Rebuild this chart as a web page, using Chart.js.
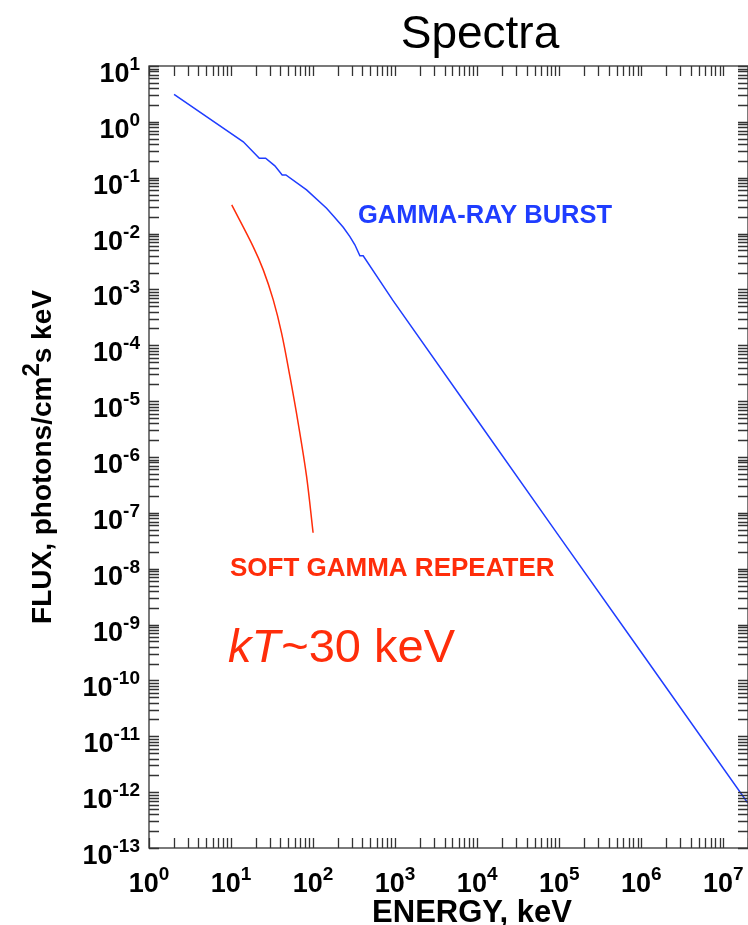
<!DOCTYPE html>
<html>
<head>
<meta charset="utf-8">
<script src="https://cdn.jsdelivr.net/npm/chart.js@4.4.1/dist/chart.umd.min.js"></script>
<style>
  html, body { margin: 0; padding: 0; background: #fff; }
  canvas { display: block; }
</style>
</head>
<body>
<canvas id="spectraChart" width="748" height="925"></canvas>
<script>
// energy in keV, flux in photons/cm^2 s keV
const grbEnergy = [2.02, 14.1, 22.1, 26.4, 34.2, 42.0, 46.6, 83.3, 146, 176, 233, 281, 323, 372, 408, 930, 1e4, 1e5, 1e6, 1.99e7];
const grbFlux = [3.1, 0.44, 0.223, 0.223, 0.163, 0.112, 0.112, 0.0605, 0.0285, 0.0209, 0.013, 8.8e-3, 6.3e-3, 4.0e-3, 4.0e-3, 6.5e-4, 4.6e-6, 3.8e-8, 3.2e-10, 6.4e-13];

const sgrEnergy = [10.2, 18.6, 24.7, 32.7, 41.3, 52.2, 65.8, 83.3, 100];
const sgrFlux = [0.0326, 5.85e-3, 2.24e-3, 6.5e-4, 1.65e-4, 2.77e-5, 4.06e-6, 4.5e-7, 4.4e-8];

// decade labels on each axis (powers of ten)
const xExps = [0, 1, 2, 3, 4, 5, 6, 7];
const yExps = [1, 0, -1, -2, -3, -4, -5, -6, -7, -8, -9, -10, -11, -12, -13];

const FONT = "'Liberation Sans', Arial, sans-serif";
const BLUE = '#1f3dff';
const RED = '#ff2d0a';

function pts(xs, ys) {
  return xs.map((v, i) => ({x: v, y: ys[i]}));
}

// "10" with a raised exponent
function drawPow(ctx, e, x, base, align) {
  ctx.font = 'bold 27px ' + FONT;
  const w10 = ctx.measureText('10').width;
  ctx.font = 'bold 19px ' + FONT;
  const we = ctx.measureText(String(e)).width;
  let left = align === 'right' ? x - w10 - we : x - (w10 + we) / 2;
  ctx.textAlign = 'left';
  ctx.textBaseline = 'alphabetic';
  ctx.font = 'bold 27px ' + FONT;
  ctx.fillText('10', left, base);
  ctx.font = 'bold 19px ' + FONT;
  ctx.fillText(String(e), left + w10, base - 12);
}

const framePlugin = {
  id: 'frame',
  afterDraw(chart) {
    const {ctx, chartArea: a} = chart;
    const xs = chart.scales.x, ys = chart.scales.y;
    ctx.save();

    // box and inward ticks
    ctx.strokeStyle = '#333';
    ctx.lineWidth = 1.3;
    ctx.strokeRect(a.left, a.top, a.right - a.left, a.bottom - a.top);
    ctx.beginPath();
    for (const n of xExps) {
      for (let k = 1; k <= 9; k++) {
        const v = k * Math.pow(10, n);
        if (v > xs.max) break;
        const px = Math.round(xs.getPixelForValue(v)) + 0.5;
        ctx.moveTo(px, a.bottom); ctx.lineTo(px, a.bottom - 10);
        ctx.moveTo(px, a.top); ctx.lineTo(px, a.top + 10);
      }
    }
    for (const n of yExps) {
      for (let k = 1; k <= 9; k++) {
        const v = k * Math.pow(10, n);
        if (v > ys.max * 1.0001) break;
        const py = Math.round(ys.getPixelForValue(v)) + 0.5;
        ctx.moveTo(a.left, py); ctx.lineTo(a.left + 10, py);
        ctx.moveTo(a.right, py); ctx.lineTo(a.right - 10, py);
      }
    }
    ctx.stroke();

    // tick labels
    ctx.fillStyle = '#000';
    for (const n of xExps) {
      drawPow(ctx, n, xs.getPixelForValue(Math.pow(10, n)), a.bottom + 44, 'center');
    }
    for (const n of yExps) {
      drawPow(ctx, n, 140, ys.getPixelForValue(Math.pow(10, n)) + 16, 'right');
    }

    // titles
    ctx.textAlign = 'center';
    ctx.font = '46px ' + FONT;
    ctx.fillText('Spectra', 480, 48);

    ctx.font = 'bold 31px ' + FONT;
    ctx.fillText('ENERGY, keV', 472, 922);

    // y title, rotated, with superscript 2
    ctx.save();
    ctx.translate(51, (a.top + a.bottom) / 2);
    ctx.rotate(-Math.PI / 2);
    const p1 = 'FLUX, photons/cm', p2 = '2', p3 = 's keV';
    ctx.font = 'bold 28px ' + FONT;
    const w1 = ctx.measureText(p1).width, w3 = ctx.measureText(p3).width;
    ctx.font = 'bold 24px ' + FONT;
    const w2 = ctx.measureText(p2).width;
    let sx = -(w1 + w2 + w3) / 2;
    ctx.textAlign = 'left';
    ctx.font = 'bold 28px ' + FONT;
    ctx.fillText(p1, sx, 0);
    ctx.font = 'bold 24px ' + FONT;
    ctx.fillText(p2, sx + w1, -12);
    ctx.font = 'bold 28px ' + FONT;
    ctx.fillText(p3, sx + w1 + w2, 0);
    ctx.restore();

    // annotations
    ctx.textAlign = 'left';
    ctx.fillStyle = BLUE;
    ctx.font = 'bold 25.5px ' + FONT;
    ctx.fillText('GAMMA-RAY BURST', 358, 223);

    ctx.fillStyle = RED;
    ctx.font = 'bold 26px ' + FONT;
    ctx.fillText('SOFT GAMMA REPEATER', 230, 576);

    ctx.font = 'italic 47px ' + FONT;
    ctx.fillText('kT', 228, 662);
    const wk = ctx.measureText('kT').width;
    ctx.font = '47px ' + FONT;
    ctx.fillText('~30 keV', 228 + wk + 1, 662);

    ctx.restore();
  }
};

const config = {
  type: 'line',
  data: {
    datasets: [{
      label: 'Gamma-ray burst',
      data: pts(grbEnergy, grbFlux),
      borderColor: BLUE,
      borderWidth: 1.5,
      pointRadius: 0,
      tension: 0
    }, {
      label: 'Soft gamma repeater',
      data: pts(sgrEnergy, sgrFlux),
      borderColor: RED,
      borderWidth: 1.5,
      pointRadius: 0,
      tension: 0.35
    }]
  },
  options: {
    responsive: false,
    animation: false,
    devicePixelRatio: 1,
    layout: {
      padding: {left: 149, top: 66, right: 0, bottom: 77}
    },
    plugins: {
      legend: {display: false},
      tooltip: {enabled: false}
    },
    scales: {
      x: {type: 'logarithmic', min: 1, max: 2e7, display: false},
      y: {type: 'logarithmic', min: 1e-13, max: 10, display: false}
    }
  },
  plugins: [framePlugin]
};

const spectraChart = new Chart(
  document.getElementById('spectraChart'),
  config
);
</script>
</body>
</html>
